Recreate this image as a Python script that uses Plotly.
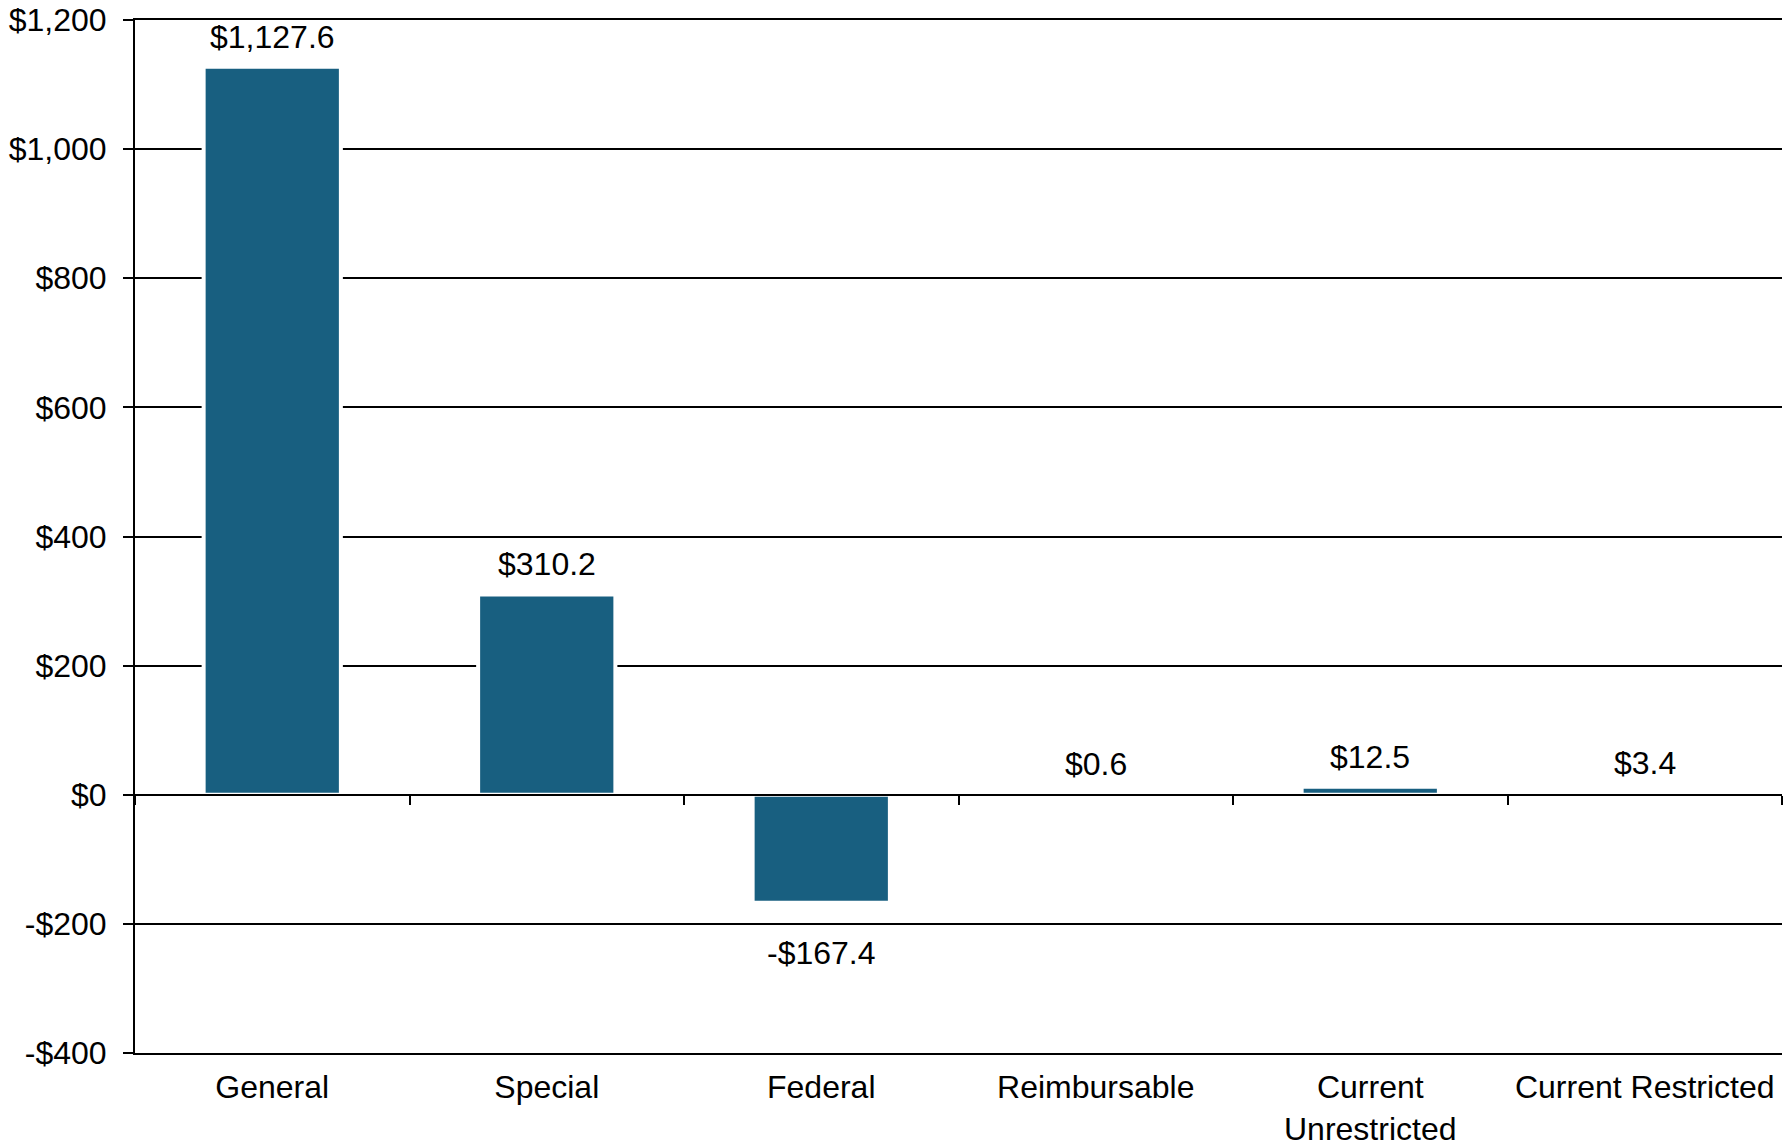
import plotly.graph_objects as go

categories = ["General", "Special", "Federal", "Reimbursable", "Current<br>Unrestricted", "Current Restricted"]
values = [1127.6, 310.2, -167.4, 0.6, 12.5, 3.4]
value_labels = ["$1,127.6", "$310.2", "-$167.4", "$0.6", "$12.5", "$3.4"]
y_tickvals = [-400, -200, 0, 200, 400, 600, 800, 1000, 1200]
y_ticktext = ["-$400", "-$200", "$0", "$200", "$400", "$600", "$800", "$1,000", "$1,200"]

FONT = "Liberation Sans, Arial, sans-serif"
FS = 32
BAR = "#185f80"

fig = go.Figure()
fig.add_trace(go.Bar(
    x=categories, y=values, width=0.5,
    marker=dict(color=BAR, line=dict(color="white", width=4)),
    showlegend=False, hoverinfo="skip",
))
# invisible trace for the zero-line axis (boundary ticks)
fig.add_trace(go.Scatter(x=categories, y=[0]*len(categories), xaxis="x2",
                         mode="markers", marker=dict(opacity=0), showlegend=False, hoverinfo="skip"))

for c, v, t in zip(categories, values, value_labels):
    fig.add_annotation(x=c, y=v, text=t, showarrow=False,
                       yanchor="middle", yshift=30 if v >= 0 else -50,
                       font=dict(family=FONT, size=FS, color="black"))

fig.update_layout(
    width=1790, height=1145,
    margin=dict(l=135, r=8, t=20, b=92, autoexpand=False),
    plot_bgcolor="white", paper_bgcolor="white",
    font=dict(family=FONT, size=FS, color="black"),
    xaxis=dict(
        type="category", range=[-0.5, 5.5],
        showgrid=False, showline=True, mirror=True, linecolor="black", linewidth=2,
        ticks="", automargin=False,
        tickfont=dict(size=FS, color="black"),
        ticklabelstandoff=5, ticklabeloverflow="allow",
    ),
    xaxis2=dict(
        type="category", overlaying="x", matches="x", anchor="free", position=0.25,
        side="bottom", showgrid=False, showline=True, linecolor="black", linewidth=2,
        ticks="outside", tickson="boundaries", ticklen=9, tickwidth=2, tickcolor="black",
        showticklabels=False, layer="above traces",
    ),
    yaxis=dict(
        range=[-400, 1200], tickvals=y_tickvals, ticktext=y_ticktext,
        showgrid=True, gridcolor="black", gridwidth=2,
        zeroline=False, automargin=False,
        showline=True, linecolor="black", linewidth=2,
        ticks="outside", ticklen=10, tickwidth=2, tickcolor="black",
        tickfont=dict(size=FS, color="black"),
        ticklabelstandoff=10, ticklabeloverflow="allow",
    ),
)

fig.write_html("out.html", config={"displayModeBar": False},
               post_script="document.body.style.margin='0';")
